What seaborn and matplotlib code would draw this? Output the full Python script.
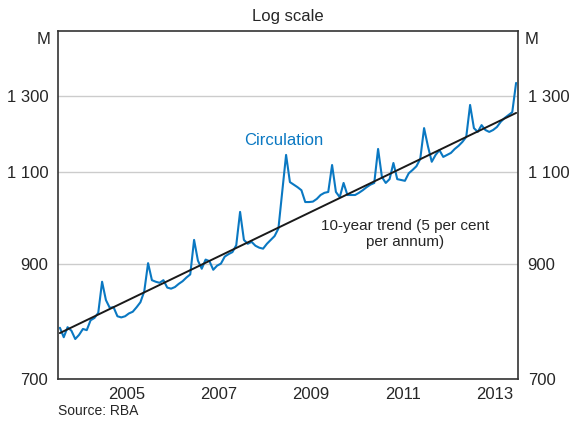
import numpy as np
import pandas as pd
import seaborn as sns
import matplotlib.pyplot as plt
from matplotlib.ticker import FixedLocator, NullLocator, FuncFormatter

# currency in circulation, $ million, monthly (Jan..Dec)
circ_2004 = [783, 767, 784, 778, 764, 771, 781, 779, 796, 800, 809, 866]
circ_2005 = [832, 818, 819, 803, 801, 803, 808, 811, 819, 828, 848, 902]
circ_2006 = [869, 866, 864, 869, 855, 853, 856, 862, 867, 874, 880, 949]
circ_2007 = [907, 891, 909, 906, 889, 897, 901, 915, 920, 924, 938, 1009]
circ_2008 = [949, 941, 945, 937, 933, 931, 941, 949, 957, 973, 1055, 1143]
circ_2009 = [1077, 1071, 1065, 1058, 1031, 1031, 1032, 1038, 1047, 1052, 1054, 1118]
circ_2010 = [1054, 1042, 1075, 1047, 1047, 1047, 1052, 1058, 1065, 1071, 1075, 1158]
circ_2011 = [1089, 1075, 1084, 1123, 1084, 1082, 1080, 1098, 1106, 1115, 1133, 1212]
circ_2012 = [1165, 1126, 1143, 1155, 1138, 1143, 1148, 1158, 1166, 1176, 1189, 1275]
circ_2013 = [1212, 1202, 1220, 1207, 1202, 1207, 1215, 1229, 1239, 1247, 1255, 1338]

# 10-year trend (5 per cent per annum), end points
trend_x = [2004.04, 2013.96]
trend_y = [774, 1253]

yticks = [700, 900, 1100, 1300]
xlabel_years = [2005, 2007, 2009, 2011, 2013]

values = (circ_2004 + circ_2005 + circ_2006 + circ_2007 + circ_2008 +
          circ_2009 + circ_2010 + circ_2011 + circ_2012 + circ_2013)
dates = pd.date_range("2004-01-01", periods=len(values), freq="MS")
df = pd.DataFrame({"t": dates.year + (dates.month - 0.5) / 12, "v": values})
trend = pd.DataFrame({"t": trend_x, "v": trend_y})

sns.set_style("white")
plt.rcParams["font.family"] = ["Liberation Sans", "DejaVu Sans"]

blue = "#0a78c2"
fig = plt.figure(figsize=(5.7, 4.23), dpi=100)
ax = fig.add_axes([58 / 570, 44 / 423, 460 / 570, 348 / 423])

sns.lineplot(data=df, x="t", y="v", ax=ax, color=blue, linewidth=1.5)
sns.lineplot(data=trend, x="t", y="v", ax=ax, color="#1a1a1a", linewidth=1.4)

ax.set_yscale("log")
ax.set_ylim(700, 1499)
ax.set_xlim(2004, 2014)
ax.yaxis.set_major_locator(FixedLocator(yticks))
ax.yaxis.set_minor_locator(NullLocator())
ax.yaxis.set_major_formatter(FuncFormatter(lambda v, p: f"{int(v):,}".replace(",", " ")))
ax.grid(axis="y", color="#cccccc", linewidth=1)
ax.set_axisbelow(True)

ax.xaxis.set_major_locator(FixedLocator(range(2004, 2015)))
ax.xaxis.set_major_formatter(FuncFormatter(lambda v, p: ""))
ax.xaxis.set_minor_locator(FixedLocator([y + 0.5 for y in xlabel_years]))
ax.xaxis.set_minor_formatter(FuncFormatter(lambda v, p: str(int(v))))
ax.tick_params(axis="x", which="major", direction="in", length=5, width=1, color="#333333")
ax.tick_params(axis="x", which="minor", length=0, labelsize=12, pad=6)
ax.tick_params(axis="y", which="major", length=0, labelsize=12, pad=7,
               left=True, right=True, labelleft=True, labelright=True)
for s in ax.spines.values():
    s.set_color("#333333")
    s.set_linewidth(1.2)
ax.set_xlabel("")
ax.set_ylabel("")

ax.text(-7 / 460, 1 - 9 / 348, "M", transform=ax.transAxes, ha="right", va="center", fontsize=12)
ax.text(1 + 7 / 460, 1 - 9 / 348, "M", transform=ax.transAxes, ha="left", va="center", fontsize=12)
ax.set_title("Log scale", fontsize=12, pad=7)

ax.text(284 / 570, 1 - 140 / 423, "Circulation", transform=fig.transFigure,
        ha="center", va="center", color=blue, fontsize=12)
ax.text(405 / 570, 1 - 234 / 423, "10-year trend (5 per cent\nper annum)", transform=fig.transFigure,
        ha="center", va="center", fontsize=11, linespacing=1.15)
fig.text(58 / 570, 1 - 411 / 423, "Source: RBA", ha="left", va="center", fontsize=10)

fig.savefig("out.png", dpi=100)
